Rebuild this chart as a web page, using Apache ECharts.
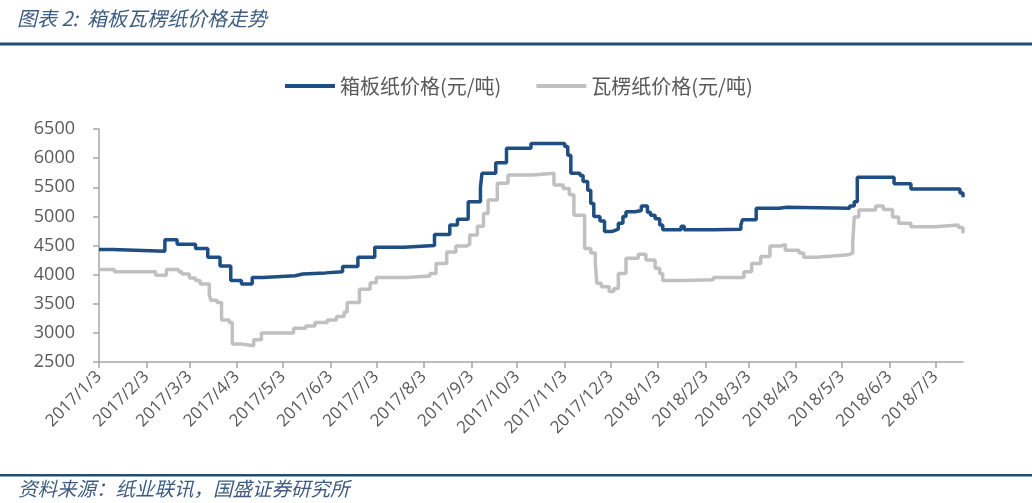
<!DOCTYPE html>
<html>
<head>
<meta charset="utf-8">
<script src="https://cdn.jsdelivr.net/npm/echarts@6/dist/echarts.min.js"></script>
<style>
html,body{margin:0;padding:0;background:#fff;}
#c{width:1032px;height:503px;}
</style>
</head>
<body>
<div id="c"></div>
<script>
const titleText = '图表 2:  箱板瓦楞纸价格走势';
const sourceText = '资料来源：纸业联讯，国盛证券研究所';
const seriesNames = ['箱板纸价格(元/吨)', '瓦楞纸价格(元/吨)'];
const tickLabels = ['2017/1/3','2017/2/3','2017/3/3','2017/4/3','2017/5/3','2017/6/3','2017/7/3','2017/8/3','2017/9/3','2017/10/3','2017/11/3','2017/12/3','2018/1/3','2018/2/3','2018/3/3','2018/4/3','2018/5/3','2018/6/3','2018/7/3'];
const xRange = ['2017-01-03', '2018-07-21'];
const yTicks = [2500, 3000, 3500, 4000, 4500, 5000, 5500, 6000, 6500];

// 箱板纸 price change points [date the value starts, value]
const boardData = [
['2017-01-03',4430],['2017-01-12',4400],['2017-02-15',4600],['2017-02-23',4520],
['2017-03-07',4450],['2017-03-15',4300],['2017-03-23',4150],['2017-03-30',3900],
['2017-04-06',3840],['2017-04-13',3950],['2017-04-20',3980],['2017-05-11',4010],
['2017-05-16',4030],['2017-05-31',4050],['2017-06-11',4140],['2017-06-21',4300],
['2017-07-02',4470],['2017-07-21',4500],['2017-08-10',4690],['2017-08-20',4850],
['2017-08-25',4950],['2017-09-01',5250],['2017-09-09',5500],['2017-09-10',5740],
['2017-09-19',5920],['2017-09-26',6170],['2017-10-12',6250],['2017-11-03',6200],
['2017-11-05',6050],['2017-11-07',5740],['2017-11-13',5700],['2017-11-15',5600],
['2017-11-18',5450],['2017-11-20',5220],['2017-11-22',5000],['2017-11-26',4920],
['2017-11-29',4740],['2017-12-03',4750],['2017-12-05',4780],['2017-12-08',4880],
['2017-12-11',5000],['2017-12-13',5080],['2017-12-19',5100],['2017-12-23',5180],
['2017-12-27',5070],['2017-12-29',5020],['2018-01-01',4960],['2018-01-04',4850],
['2018-01-06',4770],['2018-01-18',4830],['2018-01-20',4770],['2018-02-08',4780],
['2018-02-26',4850],['2018-02-27',4940],['2018-03-08',5140],['2018-03-23',5155],
['2018-03-28',5140],['2018-05-08',5180],['2018-05-11',5250],['2018-05-13',5670],
['2018-06-06',5560],['2018-06-17',5470],['2018-07-19',5400],['2018-07-21',5330]
];

// 瓦楞纸 price change points [date the value starts, value]
const corrugData = [
['2017-01-03',4090],['2017-01-13',4050],['2017-02-09',3990],['2017-02-16',4090],
['2017-02-24',4050],['2017-02-26',4010],['2017-03-03',3940],['2017-03-07',3900],
['2017-03-10',3840],['2017-03-16',3650],['2017-03-17',3560],['2017-03-21',3520],
['2017-03-24',3220],['2017-03-29',3180],['2017-03-31',2810],['2017-04-06',2780],
['2017-04-14',2880],['2017-04-19',3000],['2017-05-10',3080],['2017-05-18',3120],
['2017-05-24',3180],['2017-06-01',3220],['2017-06-07',3280],['2017-06-12',3360],
['2017-06-14',3520],['2017-06-22',3750],['2017-06-29',3860],['2017-07-03',3950],
['2017-07-23',3975],['2017-08-07',4020],['2017-08-11',4190],['2017-08-18',4390],
['2017-08-24',4490],['2017-08-31',4520],['2017-09-02',4680],['2017-09-07',4830],
['2017-09-11',5050],['2017-09-14',5280],['2017-09-20',5570],['2017-09-27',5710],
['2017-10-13',5740],['2017-10-27',5540],['2017-11-02',5480],['2017-11-06',5370],
['2017-11-09',5020],['2017-11-16',4450],['2017-11-20',4370],['2017-11-23',4190],
['2017-11-24',3850],['2017-11-27',3790],['2017-12-02',3710],['2017-12-05',3760],
['2017-12-08',4020],['2017-12-13',4280],['2017-12-21',4350],['2017-12-26',4250],
['2018-01-01',4110],['2018-01-04',4020],['2018-01-06',3900],['2018-01-20',3910],
['2018-02-08',3950],['2018-02-28',4050],['2018-03-05',4190],['2018-03-11',4310],
['2018-03-17',4490],['2018-03-24',4520],['2018-03-27',4420],['2018-04-05',4370],
['2018-04-08',4300],['2018-04-16',4320],['2018-04-27',4340],['2018-05-07',4370],
['2018-05-10',4540],['2018-05-11',4990],['2018-05-14',5110],['2018-05-25',5180],
['2018-05-30',5120],['2018-06-05',4990],['2018-06-09',4880],['2018-06-17',4820],
['2018-07-03',4850],['2018-07-18',4810],['2018-07-21',4710]
];

function ts(s) {
  const p = s.split(/[-\/]/).map(Number);
  return new Date(p[0], p[1] - 1, p[2]).getTime();
}
const tickTs = tickLabels.map(ts);
const labelMap = {};
tickLabels.forEach((l, i) => { labelMap[tickTs[i]] = l; });

const chart = echarts.init(document.getElementById('c'));
const axisColor = '#a6a6a6';
const textColor = '#595959';
const ruleColor = '#1f4e79';

chart.setOption({
  animation: false,
  backgroundColor: '#fff',
  graphic: [
    { type: 'text', left: 17, top: 8, style: { text: titleText, font: 'italic 20px "Noto Sans CJK SC", sans-serif', fill: '#3e5c82' } },
    { type: 'rect', shape: { x: 0, y: 42.5, width: 1032, height: 3 }, style: { fill: ruleColor } },
    { type: 'rect', shape: { x: 0, y: 474, width: 1032, height: 2.5 }, style: { fill: ruleColor } },
    { type: 'text', left: 18, top: 479, style: { text: sourceText, font: 'italic 19.5px "Noto Sans CJK SC", sans-serif', fill: '#3e5c82' } }
  ],
  legend: {
    left: 280, top: 71,
    itemWidth: 50, itemHeight: 4, itemGap: 35,
    icon: 'rect',
    textStyle: { fontSize: 20, color: textColor, fontFamily: '"Noto Sans CJK SC", sans-serif' },
    data: seriesNames
  },
  grid: { left: 99, right: 69, top: 129, bottom: 141, containLabel: false },
  xAxis: {
    type: 'value',
    min: ts(xRange[0]), max: ts(xRange[1]),
    splitLine: { show: false },
    axisLine: { show: true, lineStyle: { color: axisColor, width: 1.5 } },
    axisTick: { show: true, length: 6, lineStyle: { color: axisColor, width: 1.5 }, customValues: tickTs },
    axisLabel: {
      customValues: tickTs,
      rotate: 45, margin: 12, hideOverlap: false, showMinLabel: true, showMaxLabel: true,
      fontSize: 17, color: textColor, fontFamily: '"Open Sans", sans-serif',
      formatter: function (v) { return labelMap[v] || ''; }
    }
  },
  yAxis: {
    type: 'value', min: yTicks[0], max: yTicks[yTicks.length - 1], interval: 500,
    splitLine: { show: false },
    axisLine: { show: true, lineStyle: { color: axisColor, width: 1.5 } },
    axisTick: { show: true, inside: false, length: 6, lineStyle: { color: axisColor, width: 1.5 } },
    axisLabel: { fontSize: 18, color: textColor, margin: 24, fontFamily: '"Open Sans", sans-serif',
      formatter: function (v) { return String(v); } }
  },
  series: [
    {
      name: seriesNames[0], type: 'line', step: 'end', showSymbol: false, z: 3,
      data: boardData.map(d => [ts(d[0]), d[1]]),
      itemStyle: { color: '#1f4e83' },
      lineStyle: { color: '#1f4e83', width: 3.5 }
    },
    {
      name: seriesNames[1], type: 'line', step: 'end', showSymbol: false, z: 2,
      data: corrugData.map(d => [ts(d[0]), d[1]]),
      itemStyle: { color: '#c0c0c0' },
      lineStyle: { color: '#c0c0c0', width: 3.5 }
    }
  ]
});
</script>
</body>
</html>
